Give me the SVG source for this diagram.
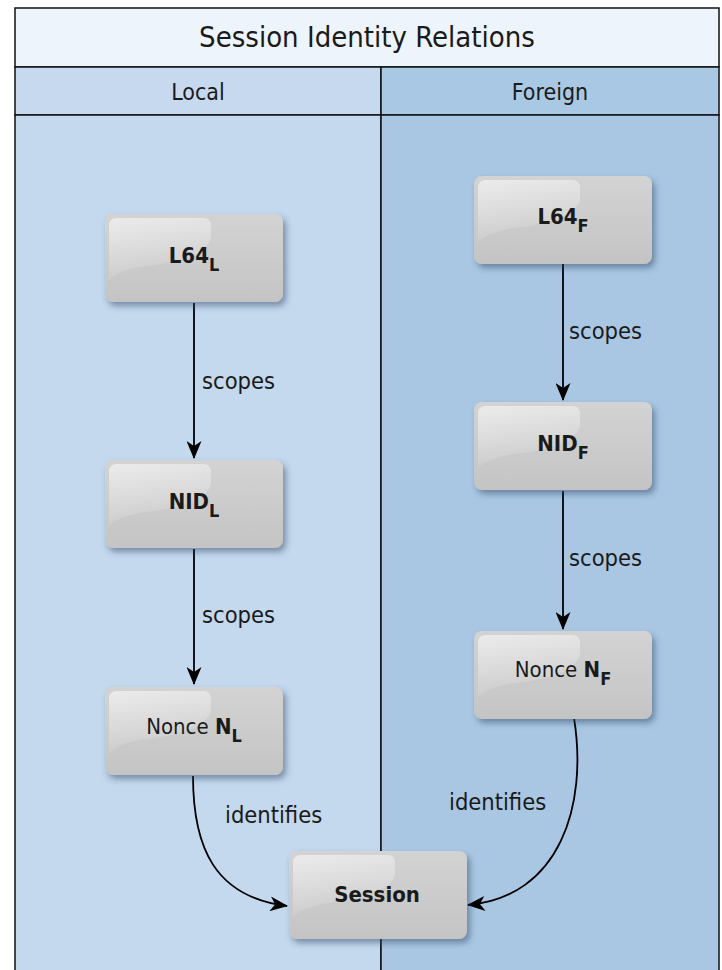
<svg xmlns="http://www.w3.org/2000/svg" width="722" height="970" viewBox="0 0 722 970">
<defs>
<style>
.t{font-family:"DejaVu Sans Condensed","DejaVu Sans",sans-serif;fill:#1a1a1a}
.title{font-size:29px;text-anchor:middle}
.hdr{font-size:23px;text-anchor:middle}
.nl{font-size:22px;font-weight:bold;text-anchor:middle}
.nr{font-size:22px;text-anchor:middle}
.el{font-size:23.5px}
.sub{font-size:18px}
.edge{fill:none;stroke:#000;stroke-width:1.8}
.box{fill:url(#gbox)}
.gloss{fill:url(#ggloss)}
</style>
<linearGradient id="gbox" x1="0" y1="0" x2="0" y2="1">
<stop offset="0" stop-color="#d3d3d3"/>
<stop offset="1" stop-color="#c4c4c4"/>
</linearGradient>
<linearGradient id="ggloss" x1="0" y1="0" x2="0.3" y2="1">
<stop offset="0" stop-color="#ffffff" stop-opacity="0.55"/>
<stop offset="1" stop-color="#ffffff" stop-opacity="0.05"/>
</linearGradient>
<filter id="sh" x="-10%" y="-10%" width="130%" height="140%">
<feDropShadow dx="3" dy="4" stdDeviation="3" flood-color="#2c4060" flood-opacity="0.5"/>
</filter>
<marker id="ah" viewBox="0 0 18 15" refX="17" refY="7.5" markerWidth="18" markerHeight="15" markerUnits="userSpaceOnUse" orient="auto">
<path d="M0,0 L18,7.5 L0,15 L5,7.5 z" fill="#000"/>
</marker>
<g id="nodebox">
<rect class="box" x="0" y="0" width="178" height="88" rx="8" filter="url(#sh)"/>
<path class="gloss" d="M4,12 Q4,4 12,4 L98,4 Q106,4 106,12 L106,24 Q100,46 40,52 Q14,56 4,66 Z"/>
</g>
</defs>

<g id="frame">
<rect x="15" y="8" width="704" height="59" fill="#eef4fb" stroke="#111" stroke-width="1.5"/>
<rect x="15" y="67" width="366" height="48" fill="#c6d9ee" stroke="#111" stroke-width="1.5"/>
<rect x="381" y="67" width="338" height="48" fill="#a9c8e4" stroke="#111" stroke-width="1.5"/>
<rect x="15" y="115" width="366" height="860" fill="#c4d8ee" stroke="#111" stroke-width="1.5"/>
<rect x="381" y="115" width="338" height="860" fill="#a9c7e3" stroke="#111" stroke-width="1.5"/>
<text class="t title" x="367" y="47">Session Identity Relations</text>
<text class="t hdr" x="198" y="100">Local</text>
<text class="t hdr" x="550" y="100">Foreign</text>
</g>

<g id="connectors">
<path class="edge" d="M194,303 L194,458" marker-end="url(#ah)"/>
<text class="t el" x="202" y="389">scopes</text>
<path class="edge" d="M194,549 L194,684" marker-end="url(#ah)"/>
<text class="t el" x="202" y="623">scopes</text>
<path class="edge" d="M563,264 L563,400" marker-end="url(#ah)"/>
<text class="t el" x="569" y="339">scopes</text>
<path class="edge" d="M563,491 L563,629" marker-end="url(#ah)"/>
<text class="t el" x="569" y="566">scopes</text>
<path class="edge" d="M193,776 C193,848 215,897 287,906" marker-end="url(#ah)"/>
<text class="t el" x="225" y="823">identifies</text>
<path class="edge" d="M574,718 C588,805 560,897 468,905" marker-end="url(#ah)"/>
<text class="t el" x="449" y="810">identifies</text>
</g>

<g id="node-l64l" transform="translate(105,214)">
<use href="#nodebox"/>
<text class="t nl" x="89" y="49">L64<tspan class="sub" dy="8">L</tspan></text>
</g>
<g id="node-nidl" transform="translate(105,460)">
<use href="#nodebox"/>
<text class="t nl" x="89" y="49">NID<tspan class="sub" dy="8">L</tspan></text>
</g>
<g id="node-noncel" transform="translate(105,687)">
<use href="#nodebox"/>
<text class="t nr" x="89" y="47">Nonce <tspan font-weight="bold">N</tspan><tspan class="sub" font-weight="bold" dy="8">L</tspan></text>
</g>
<g id="node-l64f" transform="translate(474,176)">
<use href="#nodebox"/>
<text class="t nl" x="89" y="48">L64<tspan class="sub" dy="8">F</tspan></text>
</g>
<g id="node-nidf" transform="translate(474,402)">
<use href="#nodebox"/>
<text class="t nl" x="89" y="49">NID<tspan class="sub" dy="8">F</tspan></text>
</g>
<g id="node-noncef" transform="translate(474,631)">
<use href="#nodebox"/>
<text class="t nr" x="89" y="46">Nonce <tspan font-weight="bold">N</tspan><tspan class="sub" font-weight="bold" dy="8">F</tspan></text>
</g>
<g id="node-session" transform="translate(289,851)">
<use href="#nodebox"/>
<text class="t nl" x="88" y="51">Session</text>
</g>
</svg>
